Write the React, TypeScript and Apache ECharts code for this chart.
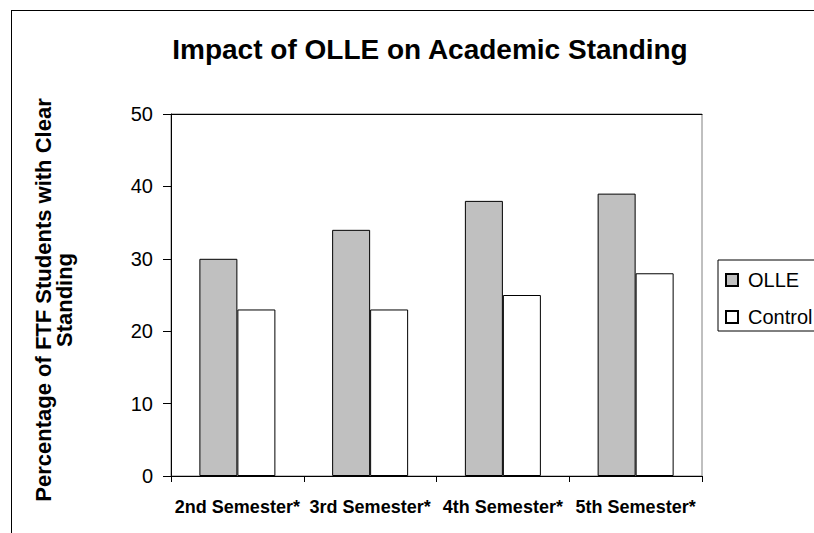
import React, { useEffect, useRef } from "react";
import * as echarts from "echarts";

const categories = ["2nd Semester*", "3rd Semester*", "4th Semester*", "5th Semester*"];
const olleValues = [30, 34, 38, 39];
const controlValues = [23, 23, 25, 28];
const seriesNames = ["OLLE", "Control"];
const titleText = "Impact of OLLE on Academic Standing";
const yAxisTitle = "Percentage of FTF Students with Clear\nStanding";
const yMin = 0;
const yMax = 50;
const yInterval = 10;

const FONT = "Arial, 'Liberation Sans', sans-serif";

export default function App() {
  const ref = useRef<HTMLDivElement>(null);

  useEffect(() => {
    if (!ref.current) return;
    const chart = echarts.init(ref.current, undefined, { renderer: "svg" });
    chart.setOption({
      animation: false,
      backgroundColor: "#ffffff",
      title: {
        text: titleText,
        left: 425,
        top: 30,
        textAlign: "center",
        textStyle: { fontFamily: FONT, fontWeight: "bold", fontSize: 28, color: "#000" },
      },
      graphic: [
        {
          type: "line",
          shape: { x1: 11, y1: 10.5, x2: 900, y2: 10.5 },
          style: { stroke: "#000", lineWidth: 1 },
          silent: true,
        },
        {
          type: "line",
          shape: { x1: 11.5, y1: 10, x2: 11.5, y2: 700 },
          style: { stroke: "#000", lineWidth: 1 },
          silent: true,
        },
        {
          type: "text",
          x: 54,
          y: 300,
          rotation: Math.PI / 2,
          style: {
            text: yAxisTitle,
            font: `bold 22px ${FONT}`,
            textAlign: "center",
            textVerticalAlign: "middle",
            lineHeight: 21,
            fill: "#000",
          },
        },
      ],
      legend: {
        orient: "vertical",
        left: 718,
        top: 260,
        padding: [8, 10, 2, 7],
        itemWidth: 12,
        itemHeight: 12,
        itemGap: 13,
        borderColor: "#000",
        borderWidth: 1,
        icon: "rect",
        textStyle: { fontFamily: FONT, fontSize: 20, color: "#000", lineHeight: 24, padding: [0, 0, 0, 5] },
        data: seriesNames,
      },
      grid: {
        left: 171,
        top: 114,
        right: 112,
        bottom: 57,
        containLabel: false,
        show: true,
        borderColor: "#808080",
        borderWidth: 1,
      },
      xAxis: [
        {
          type: "category",
          data: categories,
          boundaryGap: true,
          axisLine: { show: true, lineStyle: { color: "#000", width: 1 } },
          axisTick: { show: true, length: 6, lineStyle: { color: "#000" } },
          axisLabel: {
            interval: 0,
            margin: 22,
            fontFamily: FONT,
            fontWeight: "bold",
            fontSize: 18,
            color: "#000",
          },
        },
        {
          type: "category",
          data: categories,
          position: "top",
          axisLine: { show: true, lineStyle: { color: "#000", width: 1 } },
          axisTick: { show: false },
          axisLabel: { show: false },
        },
      ],
      yAxis: {
        type: "value",
        min: yMin,
        max: yMax,
        interval: yInterval,
        axisLine: { show: true, lineStyle: { color: "#000", width: 1 } },
        axisTick: { show: true, length: 8, lineStyle: { color: "#000" } },
        splitLine: { show: false },
        axisLabel: { margin: 18, fontFamily: FONT, fontSize: 20, color: "#000" },
      },
      series: [
        {
          name: seriesNames[0],
          type: "bar",
          data: olleValues,
          barWidth: 38,
          barGap: "0%",
          itemStyle: { color: "#C0C0C0", borderColor: "#000", borderWidth: 1 },
        },
        {
          name: seriesNames[1],
          type: "bar",
          data: controlValues,
          barWidth: 38,
          barGap: "0%",
          itemStyle: { color: "#FFFFFF", borderColor: "#000", borderWidth: 1 },
        },
      ],
    });
    return () => chart.dispose();
  }, []);

  return (
    <div
      ref={ref}
      style={{ position: "fixed", left: 0, top: 0, width: 814, height: 533, overflow: "hidden" }}
    />
  );
}
